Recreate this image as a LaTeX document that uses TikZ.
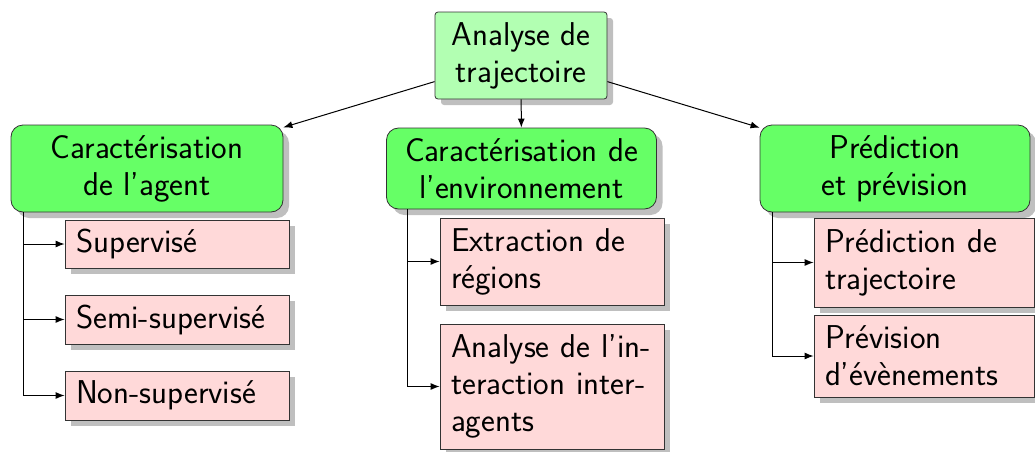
\documentclass[tikz,border=0pt]{standalone}
\usetikzlibrary{shadows,arrows.meta,calc}
\begin{document}
\begin{tikzpicture}[x=0.5pt,y=-0.5pt,
  every node/.style={font=\sffamily\fontsize{16.5}{18.5}\selectfont},
  shad/.style={drop shadow={shadow xshift=3pt,shadow yshift=-3pt,fill=black!25,opacity=1}},
  rootbox/.style={draw=black!80,fill=green!30,rounded corners=1.5pt,align=center,shad,inner sep=0pt},
  catbox/.style={draw=black!80,fill=green!60,rounded corners=6pt,align=center,shad,inner sep=0pt},
  leafbox/.style={draw=black!80,fill=red!15,align=left,shad,inner xsep=5.5pt,inner ysep=0pt,text width=101pt},
  arr/.style={-{Latex[length=4.5pt,width=3.5pt]},line width=0.5pt}]
\useasboundingbox (0,0) rectangle (1035,451);
\node[rootbox,minimum width=86pt,minimum height=43.5pt] (root) at (521,55.5) {Analyse de\\trajectoire};
\node[catbox,minimum width=136pt,minimum height=43.5pt] (gl) at (147,168.5) {Caractérisation\\de l’agent};
\node[catbox,minimum width=135pt,minimum height=40.5pt] (gm) at (521.5,168.5) {Caractérisation de\\l’environnement};
\node[catbox,minimum width=135pt,minimum height=43.5pt] (gr) at (895,168.5) {Prédiction\\et prévision};
\node[leafbox,minimum height=24pt] (l1) at (177,244) {Supervisé};
\node[leafbox,minimum height=24.5pt] (l2) at (177,319.5) {Semi-supervisé};
\node[leafbox,minimum height=24.5pt] (l3) at (177,395.5) {Non-supervisé};
\node[leafbox,minimum height=43.5pt] (m1) at (552,261.5) {Extraction de\\régions};
\node[leafbox,minimum height=62.5pt] (m2) at (552,386.5) {\mbox{Analyse de l’in-}\\\mbox{teraction inter-}\\agents};
\node[leafbox,text width=99pt,minimum height=44.5pt] (r1) at (924,262.5) {Prédiction de\\trajectoire};
\node[leafbox,text width=99pt,minimum height=41pt] (r2) at (924,356) {Prévision\\d’évènements};
\draw[arr] (root) -- (gl);
\draw[arr] (root) -- (gm);
\draw[arr] (root) -- (gr);
\coordinate (cl) at ($(gl.south west)+(6.5pt,0)$);
\coordinate (cm) at ($(gm.south west)+(10.5pt,0)$);
\coordinate (cr) at ($(gr.south west)+(6.5pt,0)$);
\draw[arr] (cl) |- (l1.west);
\draw[arr] (cl) |- (l2.west);
\draw[arr] (cl) |- (l3.west);
\draw[arr] (cm) |- (m1.west);
\draw[arr] (cm) |- (m2.west);
\draw[arr] (cr) |- (r1.west);
\draw[arr] (cr) |- (r2.west);
\end{tikzpicture}
\end{document}
